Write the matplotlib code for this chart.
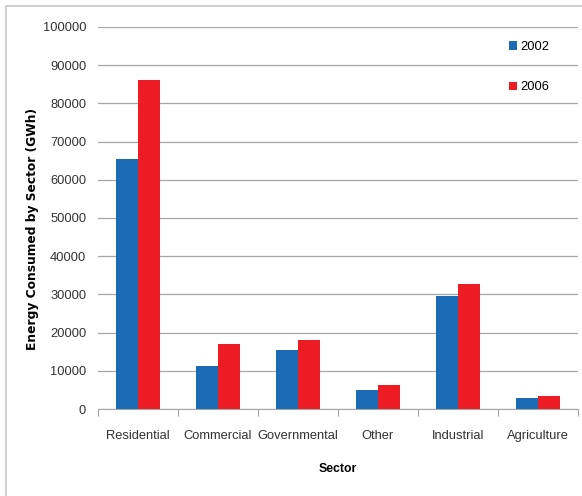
import numpy as np
import matplotlib
matplotlib.use('Agg')
import matplotlib.pyplot as plt
from matplotlib.patches import Rectangle

plt.rcParams['font.family'] = ['Liberation Sans', 'DejaVu Sans']

sectors = ['Residential', 'Commercial', 'Governmental', 'Other', 'Industrial', 'Agriculture']
y2002 = [65500, 11300, 15400, 5000, 29600, 2900]
y2006 = [86200, 17100, 18100, 6400, 32600, 3500]
yticks = [0, 10000, 20000, 30000, 40000, 50000, 60000, 70000, 80000, 90000, 100000]

fig = plt.figure(figsize=(5.82, 4.96), dpi=100)
ax = fig.add_axes([98/582, 1-409/496, 480/582, 382/496])

x = np.arange(len(sectors))
w = 0.28
ax.bar(x - w/2, y2002, w, color='#1b6bb6', label='2002', zorder=3)
ax.bar(x + w/2, y2006, w, color='#ed1c24', label='2006', zorder=3)

ax.set_xlim(-0.5, len(sectors) - 0.5)
ax.set_ylim(0, 100000)
ax.set_yticks(yticks)
ax.set_yticklabels([str(v) for v in yticks], fontsize=9.3, color='#333333')
ax.yaxis.grid(True, color='#a6a6a6', linewidth=0.9, zorder=0)
ax.tick_params(axis='y', length=0, pad=8.5)

# boundary ticks, labels at centers
ax.set_xticks(np.arange(-0.5, len(sectors)))
ax.set_xticklabels([])
ax.tick_params(axis='x', which='major', length=5, color='#a6a6a6', direction='out')
ax.set_xticks(x, minor=True)
ax.set_xticklabels(sectors, minor=True, fontsize=9.3, color='#333333')
ax.tick_params(axis='x', which='minor', length=0, pad=15)

for s in ['top', 'right', 'left']:
    ax.spines[s].set_visible(False)
ax.spines['bottom'].set_color('#a6a6a6')

ax.set_ylabel('Energy Consumed by Sector (GWh)', fontsize=8.8, fontweight='bold',
              family=['DejaVu Sans'])
ax.yaxis.set_label_coords((32 - 98) / 480, (409 - 229) / 382)
ax.set_xlabel('Sector', fontsize=8.8, fontweight='bold')
ax.xaxis.set_label_coords((338 - 98) / 480, -(469 - 409) / 382)
ax.xaxis.label.set_va('center')
ax.yaxis.label.set_va('center')

fig.legend(loc='upper left', bbox_to_anchor=(509/582, 1-41/496), frameon=False,
           fontsize=9.3, handlelength=0.6, handleheight=0.6, handletextpad=0.3,
           labelspacing=2.2, borderaxespad=0, borderpad=0)

fig.patches.append(Rectangle((6/582, -0.1), 1.1, 1 + 0.1 - 6/496, transform=fig.transFigure,
                             fill=False, edgecolor='#c8c8c8', linewidth=1.2))

plt.savefig('out.png', dpi=100)
